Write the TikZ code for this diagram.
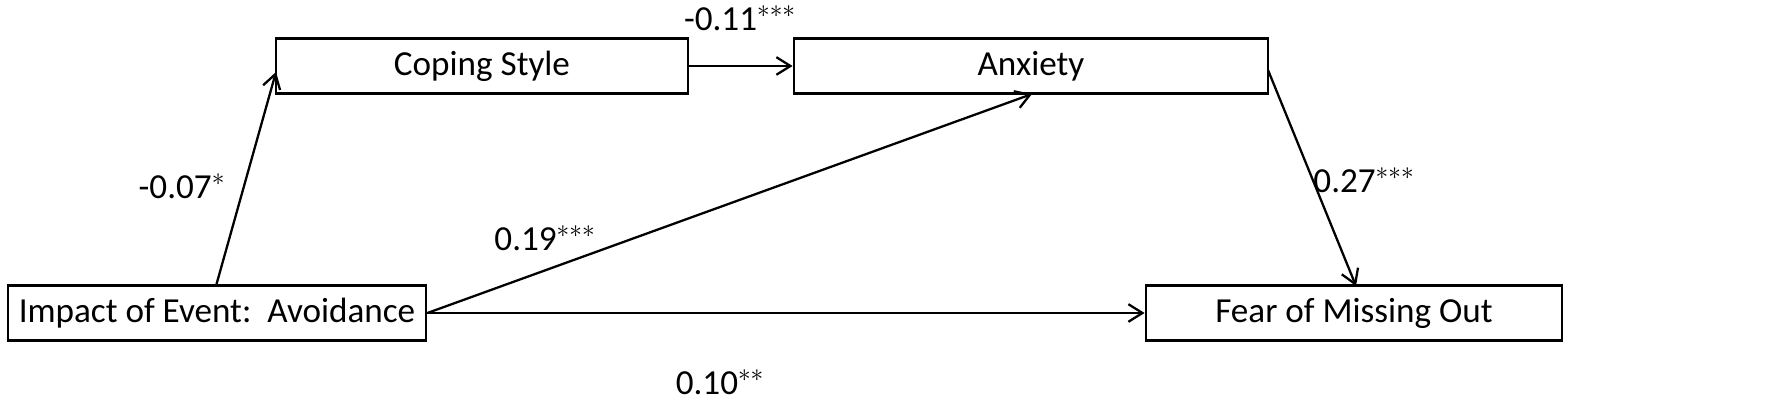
\documentclass[tikz,border=0pt]{standalone}
\usepackage{fontspec}
\setmainfont{Carlito}
\usetikzlibrary{arrows.meta}
\begin{document}
\begin{tikzpicture}[x=0.02cm,y=-0.02cm,
 box/.style={draw,line width=1.6pt,minimum width=#1*0.02cm,minimum height=1.1cm,inner sep=0pt,font=\fontsize{20}{24}\selectfont},
 arr/.style={->,line width=1.3pt,>={Straight Barb[length=8pt,width=10pt]}},
 lab/.style={font=\fontsize{20}{24}\selectfont}]
\useasboundingbox (0,0) rectangle (1772,408);
\node[box=412] (cs) at (482,66) {Coping Style};
\node[box=474] (an) at (1031,66) {Anxiety};
\node[box=418] (ie) at (217,313) {Impact of Event:\ \ Avoidance};
\node[box=416] (fm) at (1354,313) {Fear of Missing Out};
\coordinate (ieT) at (216,286);
\coordinate (csL) at (276,72);
\coordinate (anB) at (1032,94);
\coordinate (anR) at (1268,70);
\coordinate (fmT) at (1356,286);
\draw[arr] (ieT) -- (csL);
\draw[arr] (cs.east) -- (an.west);
\draw[arr] (ie.east) -- (anB);
\draw[arr] (ie.east) -- (fm.west);
\draw[arr] (anR) -- (fmT);
\node[lab] (l1) at (182,186) {-0.07$^{*}$};
\node[lab] (l2) at (740,18) {-0.11$^{***}$};
\node[lab] (l3) at (545,238) {0.19$^{***}$};
\node[lab] (l4) at (1364,180) {0.27$^{***}$};
\node[lab] (l5) at (720,382) {0.10$^{**}$};
\end{tikzpicture}
\end{document}
